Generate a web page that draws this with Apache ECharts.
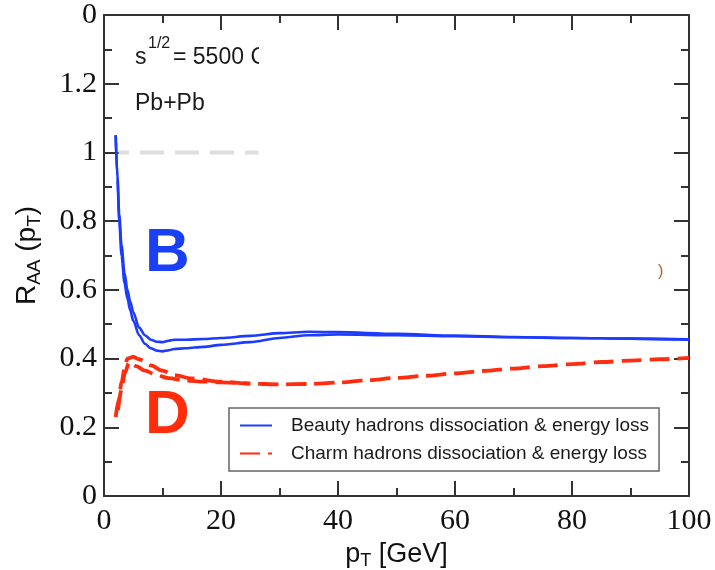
<!DOCTYPE html>
<html>
<head>
<meta charset="utf-8">
<script src="https://cdn.jsdelivr.net/npm/echarts@6/dist/echarts.min.js"></script>
<style>
  html, body { margin: 0; padding: 0; background: #fff; }
  #chart { width: 715px; height: 570px; }
</style>
</head>
<body>
<div id="chart"></div>
<script>
// Nuclear modification factor R_AA vs pT, Pb+Pb at sqrt(s) = 5500 GeV
const beautyUpperPt  = [2.0, 2.3, 2.6, 3.0, 3.5, 4.0, 4.5, 5.0, 6.0, 7.0, 8.0, 9.0, 10.0, 11.0, 12.0, 14.0, 17.0, 20.0, 25.0, 30.0, 35.0, 40.0, 50.0, 60.0, 70.0, 80.0, 90.0, 100.0];
const beautyUpperRaa = [1.05, 0.93, 0.82, 0.73, 0.65, 0.60, 0.565, 0.535, 0.49, 0.468, 0.455, 0.449, 0.448, 0.452, 0.455, 0.455, 0.457, 0.460, 0.466, 0.474, 0.478, 0.477, 0.472, 0.467, 0.463, 0.460, 0.458, 0.456];
const beautyLowerPt  = [2.0, 2.3, 2.6, 3.0, 3.5, 4.0, 4.5, 5.0, 6.0, 7.0, 8.0, 9.0, 10.0, 11.0, 12.0, 14.0, 17.0, 20.0, 25.0, 30.0, 35.0, 40.0, 50.0, 60.0, 70.0, 80.0, 90.0, 100.0];
const beautyLowerRaa = [1.05, 0.92, 0.80, 0.70, 0.62, 0.575, 0.54, 0.51, 0.468, 0.443, 0.430, 0.423, 0.421, 0.424, 0.428, 0.430, 0.434, 0.440, 0.448, 0.460, 0.468, 0.470, 0.468, 0.465, 0.462, 0.460, 0.458, 0.455];

const charmUpperPt  = [2.0, 2.5, 3.0, 3.5, 4.0, 5.0, 6.0, 8.0, 10.0, 12.0, 15.0, 20.0, 25.0, 30.0, 35.0, 40.0, 45.0, 50.0, 55.0, 60.0, 65.0, 70.0, 75.0, 80.0, 85.0, 90.0, 95.0, 100.0];
const charmUpperRaa = [0.23, 0.28, 0.33, 0.37, 0.40, 0.405, 0.398, 0.38, 0.365, 0.352, 0.342, 0.333, 0.327, 0.325, 0.326, 0.330, 0.337, 0.344, 0.350, 0.357, 0.364, 0.371, 0.378, 0.384, 0.390, 0.394, 0.398, 0.402];
const charmLowerPt  = [2.4, 3.0, 3.6, 4.3, 5.5, 7.0, 9.0, 11.0, 14.0, 17.0, 20.0, 25.0];
const charmLowerRaa = [0.25, 0.31, 0.36, 0.39, 0.378, 0.365, 0.352, 0.343, 0.336, 0.333, 0.331, 0.327];

// reference level R_AA = 1
const unityPt  = [2.5, 26.4];
const unityRaa = [1, 1];

const xTicks = { min: 0, max: 100, step: 20 };
const yTicks = { min: 0, max: 1.4, step: 0.2 };

const beautyName = 'Beauty hadrons dissociation & energy loss';
const charmName  = 'Charm hadrons dissociation & energy loss';

const BLUE = '#1d3bff';
const RED  = '#ff2d0d';
const AXIS = '#333';

function pairs(xs, ys) { return xs.map((x, i) => [x, ys[i]]); }

const chart = echarts.init(document.getElementById('chart'), null, { renderer: 'canvas' });

const tickCommon = {
  axisLine: { show: true, onZero: false, lineStyle: { color: AXIS, width: 2 } },
  axisTick: { show: true, inside: true, length: 15, lineStyle: { color: AXIS, width: 2 } },
  minorTick: { show: true, splitNumber: 2, length: 8, lineStyle: { color: AXIS, width: 2 } },
  splitLine: { show: false },
  minorSplitLine: { show: false }
};

const option = {
  animation: false,
  backgroundColor: '#fff',
  grid: { left: 104, right: 26, top: 15, bottom: 74, containLabel: false, outerBoundsMode: 'none' },
  xAxis: [
    Object.assign({
      type: 'value', min: xTicks.min, max: xTicks.max, interval: xTicks.step,
      position: 'bottom',
      name: '{r|p}{s|T}{r| [GeV]}',
      nameLocation: 'middle', nameGap: 30,
      nameTextStyle: {
        rich: {
          r: { fontFamily: 'Liberation Sans', fontSize: 27, color: '#111' },
          s: { fontFamily: 'Liberation Sans', fontSize: 18, color: '#111', padding: [14, 0, 0, 0] }
        }
      },
      axisLabel: { fontFamily: 'Liberation Serif', fontSize: 30, color: '#111', margin: 10 }
    }, tickCommon),
    Object.assign({
      type: 'value', min: xTicks.min, max: xTicks.max, interval: xTicks.step,
      position: 'top',
      axisLabel: { show: false }
    }, tickCommon)
  ],
  yAxis: [
    Object.assign({
      type: 'value', min: yTicks.min, max: yTicks.max, interval: yTicks.step,
      position: 'left',
      name: '{r|R}{s|AA}{r| (p}{s|T}{r|)}',
      nameLocation: 'middle', nameGap: 60, nameRotate: 90,
      nameTextStyle: {
        rich: {
          r: { fontFamily: 'Liberation Sans', fontSize: 28, color: '#111' },
          s: { fontFamily: 'Liberation Sans', fontSize: 19, color: '#111', padding: [14, 0, 0, 0] }
        }
      },
      axisLabel: {
        fontFamily: 'Liberation Serif', fontSize: 30, color: '#111', margin: 7,
        formatter: v => (v > 1.35 ? '0' : String(Math.round(v * 10) / 10))
      }
    }, tickCommon),
    Object.assign({
      type: 'value', min: yTicks.min, max: yTicks.max, interval: yTicks.step,
      position: 'right',
      axisLabel: { show: false }
    }, tickCommon)
  ],
  legend: {
    orient: 'vertical',
    left: 229, top: 408,
    padding: [8, 10, 8, 10],
    itemGap: 9,
    itemWidth: 32, itemHeight: 14,
    borderColor: '#666', borderWidth: 1.5,
    backgroundColor: '#fff',
    itemStyle: { opacity: 0 },
    textStyle: { fontFamily: 'Liberation Sans', fontSize: 19, color: '#1a1a1a', padding: [0, 0, 0, 14] },
    data: [beautyName, charmName]
  },
  series: [
    {
      name: 'unity', type: 'line', data: pairs(unityPt, unityRaa),
      symbol: 'none', silent: true,
      lineStyle: { color: '#dedede', width: 4, type: [24, 11], dashOffset: 13.6 }, z: 1
    },
    {
      name: beautyName, type: 'line', data: pairs(beautyUpperPt, beautyUpperRaa),
      symbol: 'none', smooth: 0.3, smoothMonotone: 'x',
      color: BLUE, lineStyle: { color: BLUE, width: 2.6 }, z: 3
    },
    {
      name: beautyName, type: 'line', data: pairs(beautyLowerPt, beautyLowerRaa),
      symbol: 'none', smooth: 0.3, smoothMonotone: 'x',
      color: BLUE, lineStyle: { color: BLUE, width: 2.6 }, z: 3
    },
    {
      name: charmName, type: 'line', data: pairs(charmUpperPt, charmUpperRaa),
      symbol: 'none', smooth: 0.3, smoothMonotone: 'x',
      color: RED, lineStyle: { color: RED, width: 3.8, type: [20, 8] }, z: 3
    },
    {
      name: charmName, type: 'line', data: pairs(charmLowerPt, charmLowerRaa),
      symbol: 'none', smooth: 0.3, smoothMonotone: 'x',
      color: RED, lineStyle: { color: RED, width: 3.8, type: [20, 8] }, z: 3
    }
  ],
  graphic: [
    { type: 'text', left: 135, top: 46, style: { text: 's', font: '23px "Liberation Sans"', fill: '#1a1a1a' } },
    { type: 'text', left: 148, top: 36, style: { text: '1/2', font: '16px "Liberation Sans"', fill: '#1a1a1a' } },
    { type: 'text', left: 173, top: 46, style: { text: '= 5500 G', font: '23px "Liberation Sans"', fill: '#1a1a1a' } },
    { type: 'rect', shape: { x: 259, y: 40, width: 30, height: 36 }, style: { fill: '#fff' }, z: 10 },
    { type: 'text', left: 135, top: 92, style: { text: 'Pb+Pb', font: '23px "Liberation Sans"', fill: '#1a1a1a' } },
    { type: 'text', left: 145, top: 223, style: { text: 'B', font: 'bold 62px "Liberation Sans"', fill: '#1a40f5' } },
    { type: 'text', left: 145, top: 385, style: { text: 'D', font: 'bold 62px "Liberation Sans"', fill: '#ff2d0a' } },
    { type: 'text', left: 658, top: 264, style: { text: ')', font: '16px "Liberation Sans"', fill: '#b86010' } }
  ]
};

chart.setOption(option);
</script>
</body>
</html>
